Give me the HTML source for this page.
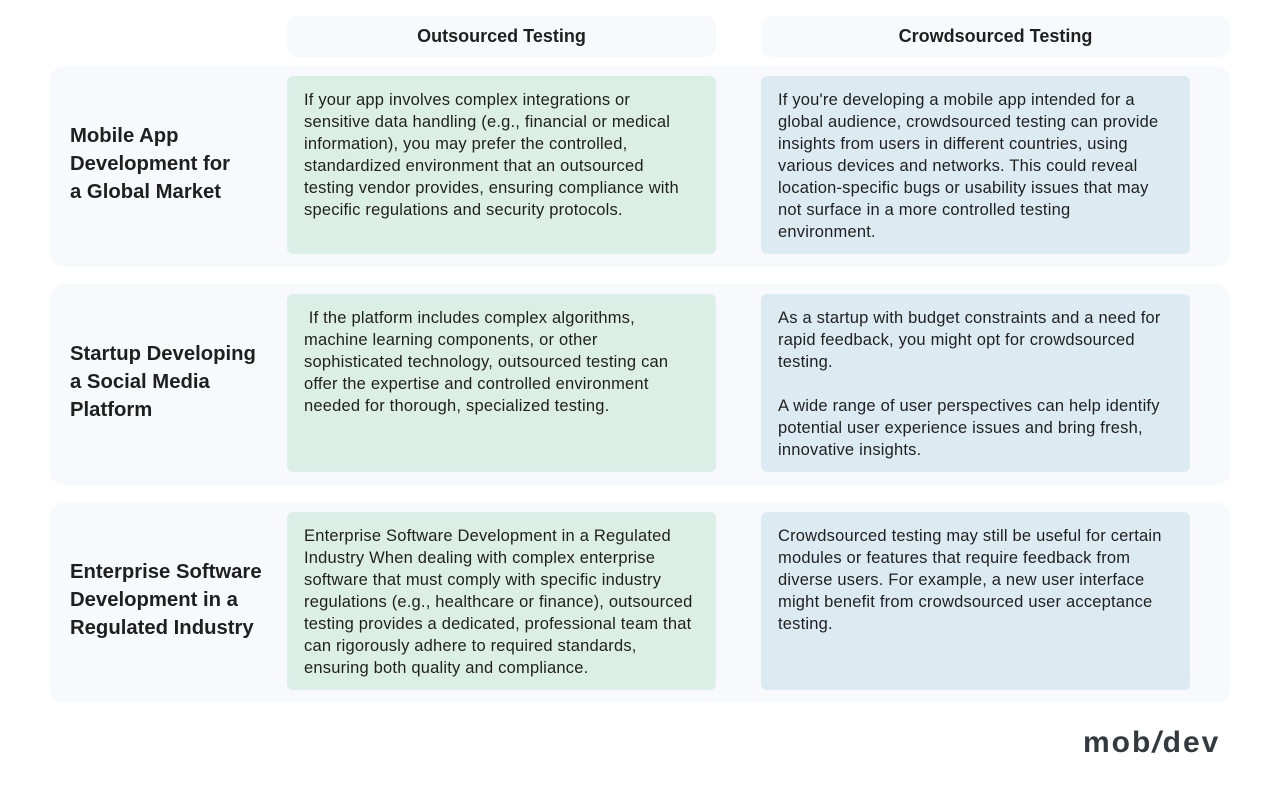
<!DOCTYPE html>
<html><head><style>
body{margin:0;width:1280px;height:785px;background:#fff;font-family:"Liberation Sans",sans-serif;color:#1f1f1f;position:relative;overflow:hidden}
.a{position:absolute;box-sizing:border-box}
.hd{background:#f8f9fd;border-radius:10px;top:16px;height:41px;font-weight:bold;font-size:18px;text-align:center;line-height:41px}
.row{background:#f8f9fd;border-radius:14px;left:50px;width:1180px;height:201px}
.t{left:70px;width:210px;font-weight:bold;font-size:20.3px;line-height:28px;white-space:nowrap}
.c{border-radius:6px;height:178px;padding:13px 17px;font-size:16.5px;letter-spacing:0.2px;line-height:22px;white-space:nowrap}
.g{background:#dcefe6;left:287px;width:429px}
.b{background:#dcebf2;left:761px;width:429px}
</style></head><body>
<div class="a hd" style="left:287px;width:429px">Outsourced Testing</div>
<div class="a hd" style="left:761px;width:469px">Crowdsourced Testing</div>

<div class="a row" style="top:66px"></div>
<div class="a row" style="top:284px"></div>
<div class="a row" style="top:502px"></div>

<div class="a t" style="top:122px">Mobile App<br>Development for<br>a Global Market</div>
<div class="a t" style="top:340px">Startup Developing<br>a Social Media<br>Platform</div>
<div class="a t" style="top:558px">Enterprise Software<br>Development in a<br>Regulated Industry</div>

<div class="a c g" style="top:76px">If your app involves complex integrations or<br>sensitive data handling (e.g., financial or medical<br>information), you may prefer the controlled,<br>standardized environment that an outsourced<br>testing vendor provides, ensuring compliance with<br>specific regulations and security protocols.</div>
<div class="a c b" style="top:76px">If you're developing a mobile app intended for a<br>global audience, crowdsourced testing can provide<br>insights from users in different countries, using<br>various devices and networks. This could reveal<br>location-specific bugs or usability issues that may<br>not surface in a more controlled testing<br>environment.</div>

<div class="a c g" style="top:294px">&nbsp;If the platform includes complex algorithms,<br>machine learning components, or other<br>sophisticated technology, outsourced testing can<br>offer the expertise and controlled environment<br>needed for thorough, specialized testing.</div>
<div class="a c b" style="top:294px">As a startup with budget constraints and a need for<br>rapid feedback, you might opt for crowdsourced<br>testing.<br><br>A wide range of user perspectives can help identify<br>potential user experience issues and bring fresh,<br>innovative insights.</div>

<div class="a c g" style="top:512px">Enterprise Software Development in a Regulated<br>Industry When dealing with complex enterprise<br>software that must comply with specific industry<br>regulations (e.g., healthcare or finance), outsourced<br>testing provides a dedicated, professional team that<br>can rigorously adhere to required standards,<br>ensuring both quality and compliance.</div>
<div class="a c b" style="top:512px">Crowdsourced testing may still be useful for certain<br>modules or features that require feedback from<br>diverse users. For example, a new user interface<br>might benefit from crowdsourced user acceptance<br>testing.</div>

<div class="a" style="left:1083px;top:726px;font-size:30px;font-weight:bold;color:#333a3d;letter-spacing:2px">mob<span style="font-style:italic">/</span>dev</div>
</body></html>
